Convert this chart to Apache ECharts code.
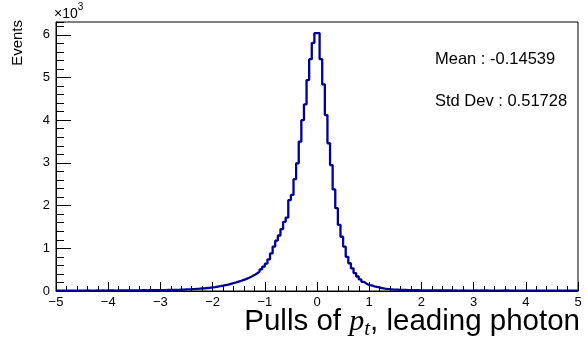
<!DOCTYPE html>
<html><head><meta charset="utf-8">
<script src="https://cdn.jsdelivr.net/npm/echarts@6/dist/echarts.min.js"></script>
<style>html,body{margin:0;padding:0;background:#fff}#c{width:587px;height:342px}</style>
</head><body><div id="c"></div>
<script>
// Histogram: 200 bins from -5 to 5 (width 0.05), counts per bin
const binLow = -5, binWidth = 0.05;
// bins -5.00 ... -2.70
const negTail = [9,7,8,10,8,9,11,8,10,9, 10,12,9,11,10,13,11,12,10,13, 12,14,11,13,15,12,14,16,13,15, 16,14,17,18,15,19,18,20,21,19, 22,21,24,23,26,25,28];
// bins -2.65 ... -0.05
const negCore = [31,33,36,39,42,46,50,54,59,64, 70,76,84,92,102,112,124,137,150,166, 182,200,220,240,262,285,310,338,372,410, 455,505,570,640,740,880,1040,1180,1300,1450, 1620,1720,2130,2250,2620,2990,3500,4000,4370,4940, 5430,5810,6040];
// bins 0.00 ... 1.95
const posCore = [6040,5430,4840,4120,3460,2950,2380,1940,1550,1270, 1040,800,650,530,420,340,270,215,172,140, 130,110,95,82,70,58,49,42,37,33, 30,27,25,23,21,20,19,18,17,16];
// bins 2.00 ... 4.95
const posTail = [16,15,14,15,13,14,13,12,13,12, 12,11,12,11,10,12,11,10,11,10, 13,10,14,11,12,10,9,11,10,9, 10,13,12,9,10,9,8,9,10,8, 9,8,9,7,8,9,8,7,8,7, 8,7,6,8,7,7,6,7,6,7];
const statMean = 'Mean : -0.14539';
const statStd = 'Std Dev : 0.51728';
const xTitle = '{a|Pulls of }{p|p}{t|t}{a|, leading photon}';
const yTitle = 'Events';

const counts = [].concat(negTail, negCore, posCore, posTail);
const histData = counts.map((c, i) => [binLow + i * binWidth, c]);
histData.push([binLow + counts.length * binWidth, counts[counts.length - 1]]);

const FONT = 'Liberation Sans, Arial, Helvetica, sans-serif';
const SERIF = 'Liberation Serif, DejaVu Serif, serif';
const chart = echarts.init(document.getElementById('c'), null, {renderer: 'canvas'});
chart.setOption({
  animation: false,
  backgroundColor: '#fff',
  grid: {left: 56, right: 9, top: 22, bottom: 51, show: true, borderColor: '#000', borderWidth: 1, containLabel: false},
  xAxis: {
    type: 'value', min: -5, max: 5, interval: 1,
    axisLine: {show: true, onZero: false, lineStyle: {color: '#000', width: 1}},
    axisTick: {show: true, inside: true, length: 9, lineStyle: {color: '#000'}},
    minorTick: {show: true, splitNumber: 5, length: 5, lineStyle: {color: '#000'}},
    splitLine: {show: false},
    axisLabel: {color: '#000', fontSize: 13, fontFamily: FONT, margin: 5,
      formatter: v => String(v).replace('-', '\u2212')}
  },
  yAxis: [{
    type: 'value', min: 0, max: 6300, interval: 1000,
    axisLine: {show: true, onZero: false, lineStyle: {color: '#000', width: 1}},
    axisTick: {show: true, inside: true, length: 15, lineStyle: {color: '#000'}},
    splitLine: {show: false},
    axisLabel: {color: '#000', fontSize: 13, fontFamily: FONT, margin: 6, showMaxLabel: false,
      formatter: v => String(v / 1000)}
  }, {
    type: 'value', min: 0, max: 6300, interval: 200, position: 'left',
    axisLine: {show: false, onZero: false},
    axisTick: {show: true, inside: true, length: 8, lineStyle: {color: '#000'}},
    splitLine: {show: false},
    axisLabel: {show: false}
  }],
  series: [{
    type: 'line', step: 'end', data: histData, yAxisIndex: 0,
    showSymbol: false, symbol: 'none',
    lineStyle: {color: '#000099', width: 2.3}, z: 3
  }],
  graphic: [
    {type: 'text', x: 54, y: 2, style: {text: '{a|\u00d710}{s|3}', rich: {
      a: {fontSize: 14, fontFamily: FONT, fill: '#000', verticalAlign: 'bottom', lineHeight: 19},
      s: {fontSize: 10, fontFamily: FONT, fill: '#000', verticalAlign: 'top', lineHeight: 19}
    }, verticalAlign: 'top'}},
    {type: 'text', x: 18, y: 20, rotation: Math.PI / 2, style: {text: yTitle, fontSize: 15, fontFamily: FONT, fill: '#000', align: 'right', verticalAlign: 'middle'}},
    {type: 'text', x: 435, y: 59, style: {text: statMean, fontSize: 16.5, fontFamily: FONT, fill: '#000', verticalAlign: 'middle'}},
    {type: 'text', x: 435, y: 101, style: {text: statStd, fontSize: 16.5, fontFamily: FONT, fill: '#000', verticalAlign: 'middle'}},
    {type: 'text', x: 580, y: 322, style: {text: xTitle, align: 'right', verticalAlign: 'middle', rich: {
      a: {fontSize: 29.5, fontFamily: FONT, fill: '#000', lineHeight: 36, verticalAlign: 'middle'},
      p: {fontSize: 30, fontFamily: SERIF, fontStyle: 'italic', fill: '#000', lineHeight: 36, verticalAlign: 'middle'},
      t: {fontSize: 21, fontFamily: SERIF, fontStyle: 'italic', fill: '#000', lineHeight: 36, verticalAlign: 'bottom'}
    }}}
  ]
});
</script></body></html>
